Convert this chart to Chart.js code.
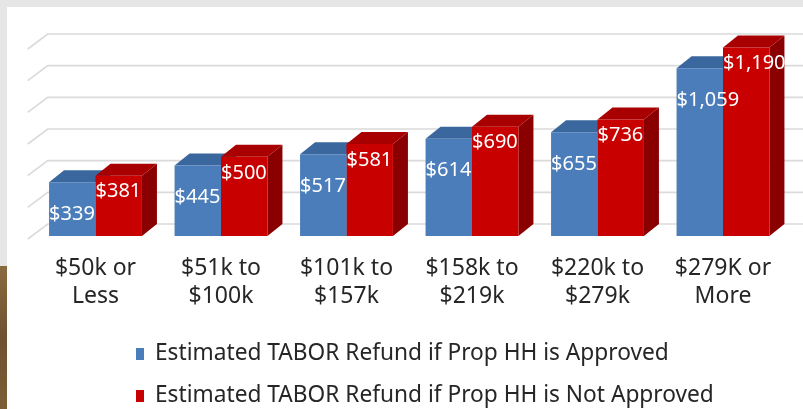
<!DOCTYPE html>
<html>
<head>
<meta charset="utf-8">
<script src="https://cdn.jsdelivr.net/npm/chart.js@4.4.1/dist/chart.umd.min.js"></script>
<style>
  html, body { margin: 0; padding: 0; background: #e6e6e6; }
  #wrap { width: 803px; height: 409px; position: relative; }
</style>
</head>
<body>
<div id="wrap"><canvas id="chart" width="803" height="409"></canvas></div>
<script>
// chart values
const incomeBands = [
  ['$50k or', 'Less'],
  ['$51k to', '$100k'],
  ['$101k to', '$157k'],
  ['$158k to', '$219k'],
  ['$220k to', '$279k'],
  ['$279K or', 'More']
];
const refundApproved = [339, 445, 517, 614, 655, 1059];
const refundNotApproved = [381, 500, 581, 690, 736, 1190];
const gridValues = [0, 200, 400, 600, 800, 1000, 1200];
const seriesNames = [
  'Estimated TABOR Refund if Prop HH is Approved',
  'Estimated TABOR Refund if Prop HH is Not Approved'
];

const DEPTH = { x: 15, y: 12 };
const FONT = '"Noto Sans", sans-serif';

// front / top / side colours per series
const faces = [
  { front: '#4a7dba', top: '#3a679d', side: '#2f5585' },
  { front: '#c80000', top: '#a80000', side: '#8a0000' }
];

const fmt = v => '$' + v.toLocaleString('en-US');

// page backdrop: grey margin, brown strip bottom-left, white slide
const backdrop = {
  id: 'backdrop',
  beforeDraw(chart) {
    const ctx = chart.ctx;
    ctx.save();
    ctx.fillStyle = '#e6e6e6';
    ctx.fillRect(0, 0, chart.width, chart.height);
    const g = ctx.createLinearGradient(0, 266, 0, chart.height);
    g.addColorStop(0, '#8a6b3e');
    g.addColorStop(0.5, '#6e5230');
    g.addColorStop(1, '#7c5e36');
    ctx.fillStyle = g;
    ctx.fillRect(0, 266, 7, chart.height - 266);
    ctx.fillStyle = '#ffffff';
    ctx.fillRect(7, 7, chart.width - 7, chart.height - 7);
    ctx.restore();
  }
};

// back-wall gridlines and the 3D top/side faces of the bars
const depth3d = {
  id: 'depth3d',
  beforeDatasetsDraw(chart) {
    const ctx = chart.ctx;
    const y = chart.scales.y;
    const left = chart.chartArea.left + DEPTH.x;
    ctx.save();
    ctx.strokeStyle = '#dadada';
    ctx.lineWidth = 1.6;
    gridValues.forEach(v => {
      const py = y.getPixelForValue(v) - DEPTH.y;
      ctx.beginPath();
      ctx.moveTo(left - 20, py + 15);
      ctx.lineTo(left, py);
      ctx.lineTo(chart.width, py);
      ctx.stroke();
    });

    chart.data.datasets.forEach((ds, di) => {
      const meta = chart.getDatasetMeta(di);
      meta.data.forEach(bar => {
        const p = bar.getProps(['x', 'y', 'base', 'width'], true);
        const xl = p.x - p.width / 2, xr = p.x + p.width / 2;
        // side
        ctx.fillStyle = faces[di].side;
        ctx.beginPath();
        ctx.moveTo(xr, p.y);
        ctx.lineTo(xr + DEPTH.x, p.y - DEPTH.y);
        ctx.lineTo(xr + DEPTH.x, p.base - DEPTH.y);
        ctx.lineTo(xr, p.base);
        ctx.closePath();
        ctx.fill();
        // top
        ctx.fillStyle = faces[di].top;
        ctx.beginPath();
        ctx.moveTo(xl, p.y);
        ctx.lineTo(xr, p.y);
        ctx.lineTo(xr + DEPTH.x, p.y - DEPTH.y);
        ctx.lineTo(xl + DEPTH.x, p.y - DEPTH.y);
        ctx.closePath();
        ctx.fill();
      });
    });
    ctx.restore();
  },
  afterDatasetsDraw(chart) {
    // white value labels, left aligned on the bar front
    const ctx = chart.ctx;
    const drop = [32, 16];
    ctx.save();
    ctx.fillStyle = '#ffffff';
    ctx.font = '20px ' + FONT;
    ctx.textAlign = 'left';
    ctx.textBaseline = 'middle';
    chart.data.datasets.forEach((ds, di) => {
      chart.getDatasetMeta(di).data.forEach((bar, i) => {
        const p = bar.getProps(['x', 'y', 'width'], true);
        ctx.fillText(fmt(ds.data[i]), p.x - p.width / 2, p.y + drop[di]);
      });
    });
    ctx.restore();
  }
};

// two-row legend, left aligned
const rowLegend = {
  id: 'rowLegend',
  afterDraw(chart) {
    const ctx = chart.ctx;
    ctx.save();
    ctx.font = '22.7px ' + FONT;
    ctx.textBaseline = 'middle';
    ctx.textAlign = 'left';
    chart.data.datasets.forEach((ds, di) => {
      const cy = 354 + di * 42;
      ctx.fillStyle = ds.backgroundColor;
      ctx.fillRect(136, cy - 6, 8, 12);
      ctx.fillStyle = '#262626';
      ctx.fillText(ds.label, 155, cy);
    });
    ctx.restore();
  }
};

new Chart(document.getElementById('chart'), {
  type: 'bar',
  data: {
    labels: incomeBands,
    datasets: [
      { label: seriesNames[0], data: refundApproved, backgroundColor: faces[0].front },
      { label: seriesNames[1], data: refundNotApproved, backgroundColor: faces[1].front }
    ]
  },
  options: {
    responsive: false,
    animation: false,
    layout: { padding: { left: 32.75, right: 17.25, top: 46, bottom: 103 } },
    datasets: { bar: { barPercentage: 1, categoryPercentage: 0.74 } },
    plugins: {
      legend: { display: false },
      tooltip: { enabled: false }
    },
    scales: {
      x: {
        grid: { display: false, drawTicks: false },
        border: { display: false },
        ticks: {
          padding: 18,
          color: '#262626',
          font: { family: FONT, size: 23, lineHeight: 28 / 23 },
          maxRotation: 0
        },
        afterFit(scale) { scale.height = 70; }
      },
      y: {
        display: false,
        min: 0,
        max: 1200
      }
    }
  },
  plugins: [backdrop, depth3d, rowLegend]
});
</script>
</body>
</html>
